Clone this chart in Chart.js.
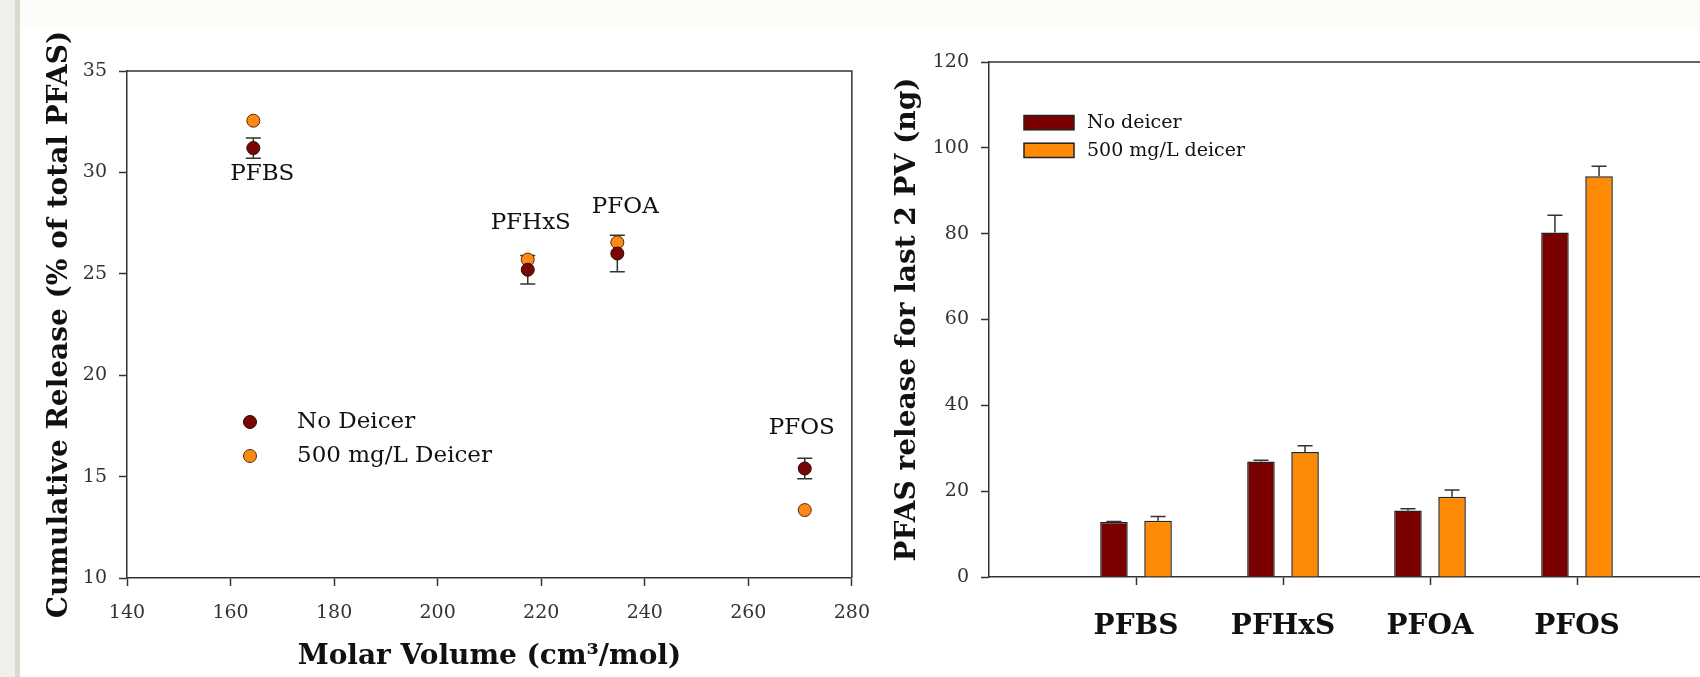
<!DOCTYPE html>
<html>
<head>
<meta charset="utf-8">
<title>PFAS release</title>
<script src="https://cdn.jsdelivr.net/npm/chart.js@4.4.1/dist/chart.umd.min.js"></script>
<style>
	html, body { margin: 0; padding: 0; width: 1700px; height: 677px; overflow: hidden; background: #fff; }
	.strip { position: absolute; left: 0; top: 0; width: 15px; height: 677px; background: #eef0ea; }
	.strip-edge { position: absolute; left: 15px; top: 0; width: 5px; height: 677px; background: #d7dccf; }
	.top-band { position: absolute; left: 20px; top: 0; width: 1680px; height: 28px; background: #fcfcf9; }
	#release-wrap { position: absolute; left: 0; top: 0; width: 886px; height: 677px; }
	#bars-wrap { position: absolute; left: 870px; top: 0; width: 880px; height: 677px; }
</style>
</head>
<body>
<div class="strip"></div>
<div class="strip-edge"></div>
<div class="top-band"></div>
<div id="release-wrap"><canvas id="release"></canvas></div>
<div id="bars-wrap"><canvas id="bars"></canvas></div>
<script>
// values
const compounds = [`PFBS`, `PFHxS`, `PFOA`, `PFOS`];

// left panel: cumulative release vs molar volume
const molarVolume = [164.4, 217.4, 234.7, 270.9];
const releaseNoDeicer = [31.2, 25.2, 26.0, 15.4];
const releaseNoDeicerErr = [0.5, 0.7, 0.9, 0.5];
const releaseDeicer = [32.55, 25.7, 26.55, 13.35];
const scatterSeries = [`No Deicer`, `500 mg/L Deicer`];

// right panel: release for last 2 PV
const lastPvNoDeicer = [12.8, 26.9, 15.5, 80.3];
const lastPvNoDeicerErr = [0.15, 0.3, 0.4, 4.0];
const lastPvDeicer = [13.1, 29.1, 18.7, 93.4];
const lastPvDeicerErr = [1.0, 1.5, 1.6, 2.3];
const barSeries = [`No deicer`, `500 mg/L deicer`];

const SERIF = `"DejaVu Serif", "Liberation Serif", serif`;
const DARK = `#7b0000`;
const ORANGE = `#ff8a05`;
const AXIS = `#333`;
const INK = `#111`;

// box lines round the plot area (top + right)
const frame = {
	id: `frame`,
	afterDatasetsDraw(chart) {
		const {ctx, chartArea: a} = chart;
		ctx.save();
		ctx.strokeStyle = AXIS;
		ctx.lineWidth = 1.5;
		ctx.beginPath();
		ctx.moveTo(a.left, a.top);
		ctx.lineTo(a.right, a.top);
		ctx.lineTo(a.right, a.bottom);
		ctx.stroke();
		ctx.restore();
	}
};

const scatterErrorBars = {
	id: `scatterErrorBars`,
	beforeDatasetsDraw(chart) {
		const {ctx, scales: {x, y}} = chart;
		ctx.save();
		ctx.strokeStyle = AXIS;
		ctx.lineWidth = 1.5;
		molarVolume.forEach((mv, i) => {
			const px = x.getPixelForValue(mv);
			const top = y.getPixelForValue(releaseNoDeicer[i] + releaseNoDeicerErr[i]);
			const bottom = y.getPixelForValue(releaseNoDeicer[i] - releaseNoDeicerErr[i]);
			ctx.beginPath();
			ctx.moveTo(px, top); ctx.lineTo(px, bottom);
			ctx.moveTo(px - 7.5, top); ctx.lineTo(px + 7.5, top);
			ctx.moveTo(px - 7.5, bottom); ctx.lineTo(px + 7.5, bottom);
			ctx.stroke();
		});
		ctx.restore();
	}
};

// compound names next to the points
const pointNames = {
	id: `pointNames`,
	afterDatasetsDraw(chart) {
		const {ctx, scales: {x, y}} = chart;
		const offsets = [[9, 26], [3, -47], [8, -46], [-3, -40]];
		ctx.save();
		ctx.font = `23px ${SERIF}`;
		ctx.fillStyle = INK;
		ctx.textAlign = `center`;
		ctx.textBaseline = `middle`;
		compounds.forEach((name, i) => {
			const px = x.getPixelForValue(molarVolume[i]);
			const py = y.getPixelForValue(releaseNoDeicer[i]);
			ctx.fillText(name, px + offsets[i][0], py + offsets[i][1]);
		});
		ctx.restore();
	}
};

const scatterLegend = {
	id: `scatterLegend`,
	afterDraw(chart) {
		const {ctx, chartArea: a} = chart;
		ctx.save();
		ctx.font = `23px ${SERIF}`;
		ctx.textBaseline = `middle`;
		chart.data.datasets.forEach((ds, i) => {
			const cy = a.top + 351 + i * 34;
			ctx.beginPath();
			ctx.arc(a.left + 123, cy, 6.5, 0, Math.PI * 2);
			ctx.fillStyle = ds.backgroundColor;
			ctx.fill();
			ctx.lineWidth = 1;
			ctx.strokeStyle = ds.borderColor;
			ctx.stroke();
			ctx.fillStyle = INK;
			ctx.fillText(ds.label, a.left + 170, cy);
		});
		ctx.restore();
	}
};

const barErrorBars = {
	id: `barErrorBars`,
	afterDatasetsDraw(chart) {
		const {ctx, scales: {y}} = chart;
		const errs = [lastPvNoDeicerErr, lastPvDeicerErr];
		ctx.save();
		ctx.strokeStyle = AXIS;
		ctx.lineWidth = 1.5;
		chart.getSortedVisibleDatasetMetas().forEach(meta => {
			meta.data.forEach((bar, i) => {
				const value = chart.data.datasets[meta.index].data[i];
				if (value === null) { return; }
				const err = errs[meta.index][i - 1];
				const top = y.getPixelForValue(value + err);
				ctx.beginPath();
				ctx.moveTo(bar.x, bar.y); ctx.lineTo(bar.x, top);
				ctx.moveTo(bar.x - 7.5, top); ctx.lineTo(bar.x + 7.5, top);
				ctx.stroke();
			});
		});
		ctx.restore();
	}
};

const barLegend = {
	id: `barLegend`,
	afterDraw(chart) {
		const {ctx, chartArea: a} = chart;
		ctx.save();
		ctx.font = `19px ${SERIF}`;
		ctx.textBaseline = `middle`;
		chart.data.datasets.forEach((ds, i) => {
			const top = a.top + 53.5 + i * 27.7;
			ctx.fillStyle = ds.backgroundColor;
			ctx.fillRect(a.left + 35, top, 50, 14.3);
			ctx.lineWidth = 1.5;
			ctx.strokeStyle = `#222`;
			ctx.strokeRect(a.left + 35, top, 50, 14.3);
			ctx.fillStyle = INK;
			ctx.fillText(ds.label, a.left + 98, top + 8);
		});
		ctx.restore();
	}
};

const tickFont = {family: SERIF, size: 19};
const titleFont = {family: SERIF, size: 28, weight: `bold`};
const paddedLabels = [``, ...compounds, ``];

new Chart(document.getElementById(`release`), {
	type: `scatter`,
	data: {
		datasets: [
			{
				label: scatterSeries[0],
				data: molarVolume.map((mv, i) => ({x: mv, y: releaseNoDeicer[i]})),
				backgroundColor: `#7a0606`,
				borderColor: `#2b0800`,
				borderWidth: 1,
				pointRadius: 6.5
			},
			{
				label: scatterSeries[1],
				data: molarVolume.map((mv, i) => ({x: mv, y: releaseDeicer[i]})),
				backgroundColor: `#fb8a16`,
				borderColor: `#5a2a00`,
				borderWidth: 1,
				pointRadius: 6.5
			}
		]
	},
	options: {
		responsive: true,
		maintainAspectRatio: false,
		animation: false,
		layout: {padding: {top: 71, right: 25, left: 0, bottom: 0}},
		plugins: {legend: {display: false}, tooltip: {enabled: false}},
		scales: {
			x: {
				type: `linear`,
				min: 140,
				max: 280,
				ticks: {stepSize: 20, padding: 16, font: tickFont, color: AXIS, maxRotation: 0},
				grid: {drawOnChartArea: false, tickLength: 8, tickColor: AXIS, tickWidth: 1.5},
				border: {color: AXIS, width: 1.5},
				title: {display: true, text: `Molar Volume (cm³/mol)`, font: titleFont, color: INK, padding: {top: 0, bottom: 3}},
				afterFit(scale) { scale.height = 99; }
			},
			y: {
				min: 10,
				max: 35,
				ticks: {stepSize: 5, padding: 12, font: tickFont, color: AXIS},
				grid: {drawOnChartArea: false, tickLength: 8, tickColor: AXIS, tickWidth: 1.5},
				border: {color: AXIS, width: 1.5},
				title: {display: true, text: `Cumulative Release (% of total PFAS)`, font: titleFont, color: INK, padding: {top: 43, bottom: 0}},
				afterFit(scale) { scale.width = 127; }
			}
		}
	},
	plugins: [scatterErrorBars, pointNames, frame, scatterLegend]
});

new Chart(document.getElementById(`bars`), {
	type: `bar`,
	data: {
		labels: paddedLabels,
		datasets: [
			{
				label: barSeries[0],
				data: [null, ...lastPvNoDeicer, null],
				backgroundColor: DARK,
				borderColor: `#222`,
				borderWidth: 1.5,
				barPercentage: 0.625,
				categoryPercentage: 0.6
			},
			{
				label: barSeries[1],
				data: [null, ...lastPvDeicer, null],
				backgroundColor: ORANGE,
				borderColor: `#222`,
				borderWidth: 1.5,
				barPercentage: 0.625,
				categoryPercentage: 0.6
			}
		]
	},
	options: {
		responsive: true,
		maintainAspectRatio: false,
		animation: false,
		layout: {padding: {top: 62, right: 26, left: 0, bottom: 0}},
		plugins: {legend: {display: false}, tooltip: {enabled: false}},
		scales: {
			x: {
				offset: false,
				ticks: {autoSkip: false, maxRotation: 0, padding: 25, font: {family: SERIF, size: 28, weight: `bold`}, color: INK},
				grid: {
					offset: false,
					drawOnChartArea: false,
					drawTicks: true,
					tickLength: 8,
					tickWidth: 1.5,
					// no tick marks on the two empty end slots
					tickColor: paddedLabels.map(label => (label === `` ? `rgba(0,0,0,0)` : AXIS))
				},
				border: {color: AXIS, width: 1.5},
				afterFit(scale) { scale.height = 100; }
			},
			y: {
				min: 0,
				max: 120,
				ticks: {stepSize: 20, padding: 12, font: tickFont, color: AXIS},
				grid: {drawOnChartArea: false, tickLength: 8, tickColor: AXIS, tickWidth: 1.5},
				border: {color: AXIS, width: 1.5},
				title: {display: true, text: `PFAS release for last 2 PV (ng)`, font: titleFont, color: INK, padding: {top: 21, bottom: 0}},
				afterFit(scale) { scale.width = 119; }
			}
		}
	},
	plugins: [barErrorBars, frame, barLegend]
});
</script>
</body>
</html>
